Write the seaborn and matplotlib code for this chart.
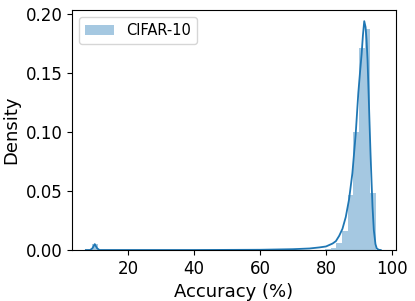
import numpy as np
import matplotlib
matplotlib.use('Agg')
import matplotlib.pyplot as plt
import seaborn as sns

# histogram bins (50 bins between 9.2 and 95.2), only the non-empty ones
bin_centers = [10.06, 80.58, 82.30, 84.02, 85.74, 87.46, 89.18, 90.90, 92.62, 94.34]
bin_density = [0.005, 0.001, 0.002, 0.006, 0.0165, 0.0466, 0.100, 0.171, 0.187, 0.0487]

# kde curve
kde_x = [7.2, 8.5, 9.2, 9.9, 10.6, 11.3, 20.0, 40.0, 60.0, 70.0, 75.0, 78.0, 80.0,
         82.0, 83.0, 84.0, 85.0, 86.0, 87.0, 88.0, 89.0, 89.8, 90.3, 90.8, 91.2,
         91.6, 92.0, 92.3, 92.6, 92.9, 93.2, 93.5, 93.8, 94.1, 94.5, 95.0, 95.4,
         96.0, 96.6]
kde_y = [0.0, 0.0, 0.0015, 0.005, 0.0015, 0.0, 0.0, 0.0, 0.0002, 0.0007, 0.0013,
         0.0022, 0.003, 0.0055, 0.0075, 0.012, 0.018, 0.028, 0.043, 0.065, 0.098,
         0.133, 0.150, 0.166, 0.182, 0.194, 0.189, 0.178, 0.161, 0.135, 0.108,
         0.082, 0.059, 0.037, 0.017, 0.005, 0.0013, 0.0002, 0.0]

label = 'CIFAR-10'
color = '#1f77b4'

fig, ax = plt.subplots(figsize=(4.15, 3.01), dpi=100)
fig.subplots_adjust(left=0.1735, right=0.954, top=0.967, bottom=0.1694)

sns.histplot(x=bin_centers, weights=bin_density, bins=50, binrange=(9.2, 95.2),
             stat='count', color=color, alpha=0.4, linewidth=0, label=label, ax=ax)
sns.lineplot(x=kde_x, y=kde_y, color=color, linewidth=1.3, estimator=None, ax=ax)

ax.set_xlim(3.0, 101.2)
ax.set_ylim(0, 0.2035)
ax.set_yticks([0.0, 0.05, 0.10, 0.15, 0.20])
ax.set_yticklabels(['0.00', '0.05', '0.10', '0.15', '0.20'])
ax.set_xticks([20, 40, 60, 80, 100])
ax.tick_params(labelsize=12)
ax.set_xlabel('Accuracy (%)', fontsize=13)
ax.set_ylabel('Density', fontsize=13)
ax.legend(loc='upper left', fontsize=10.5)

plt.savefig('out.png')
